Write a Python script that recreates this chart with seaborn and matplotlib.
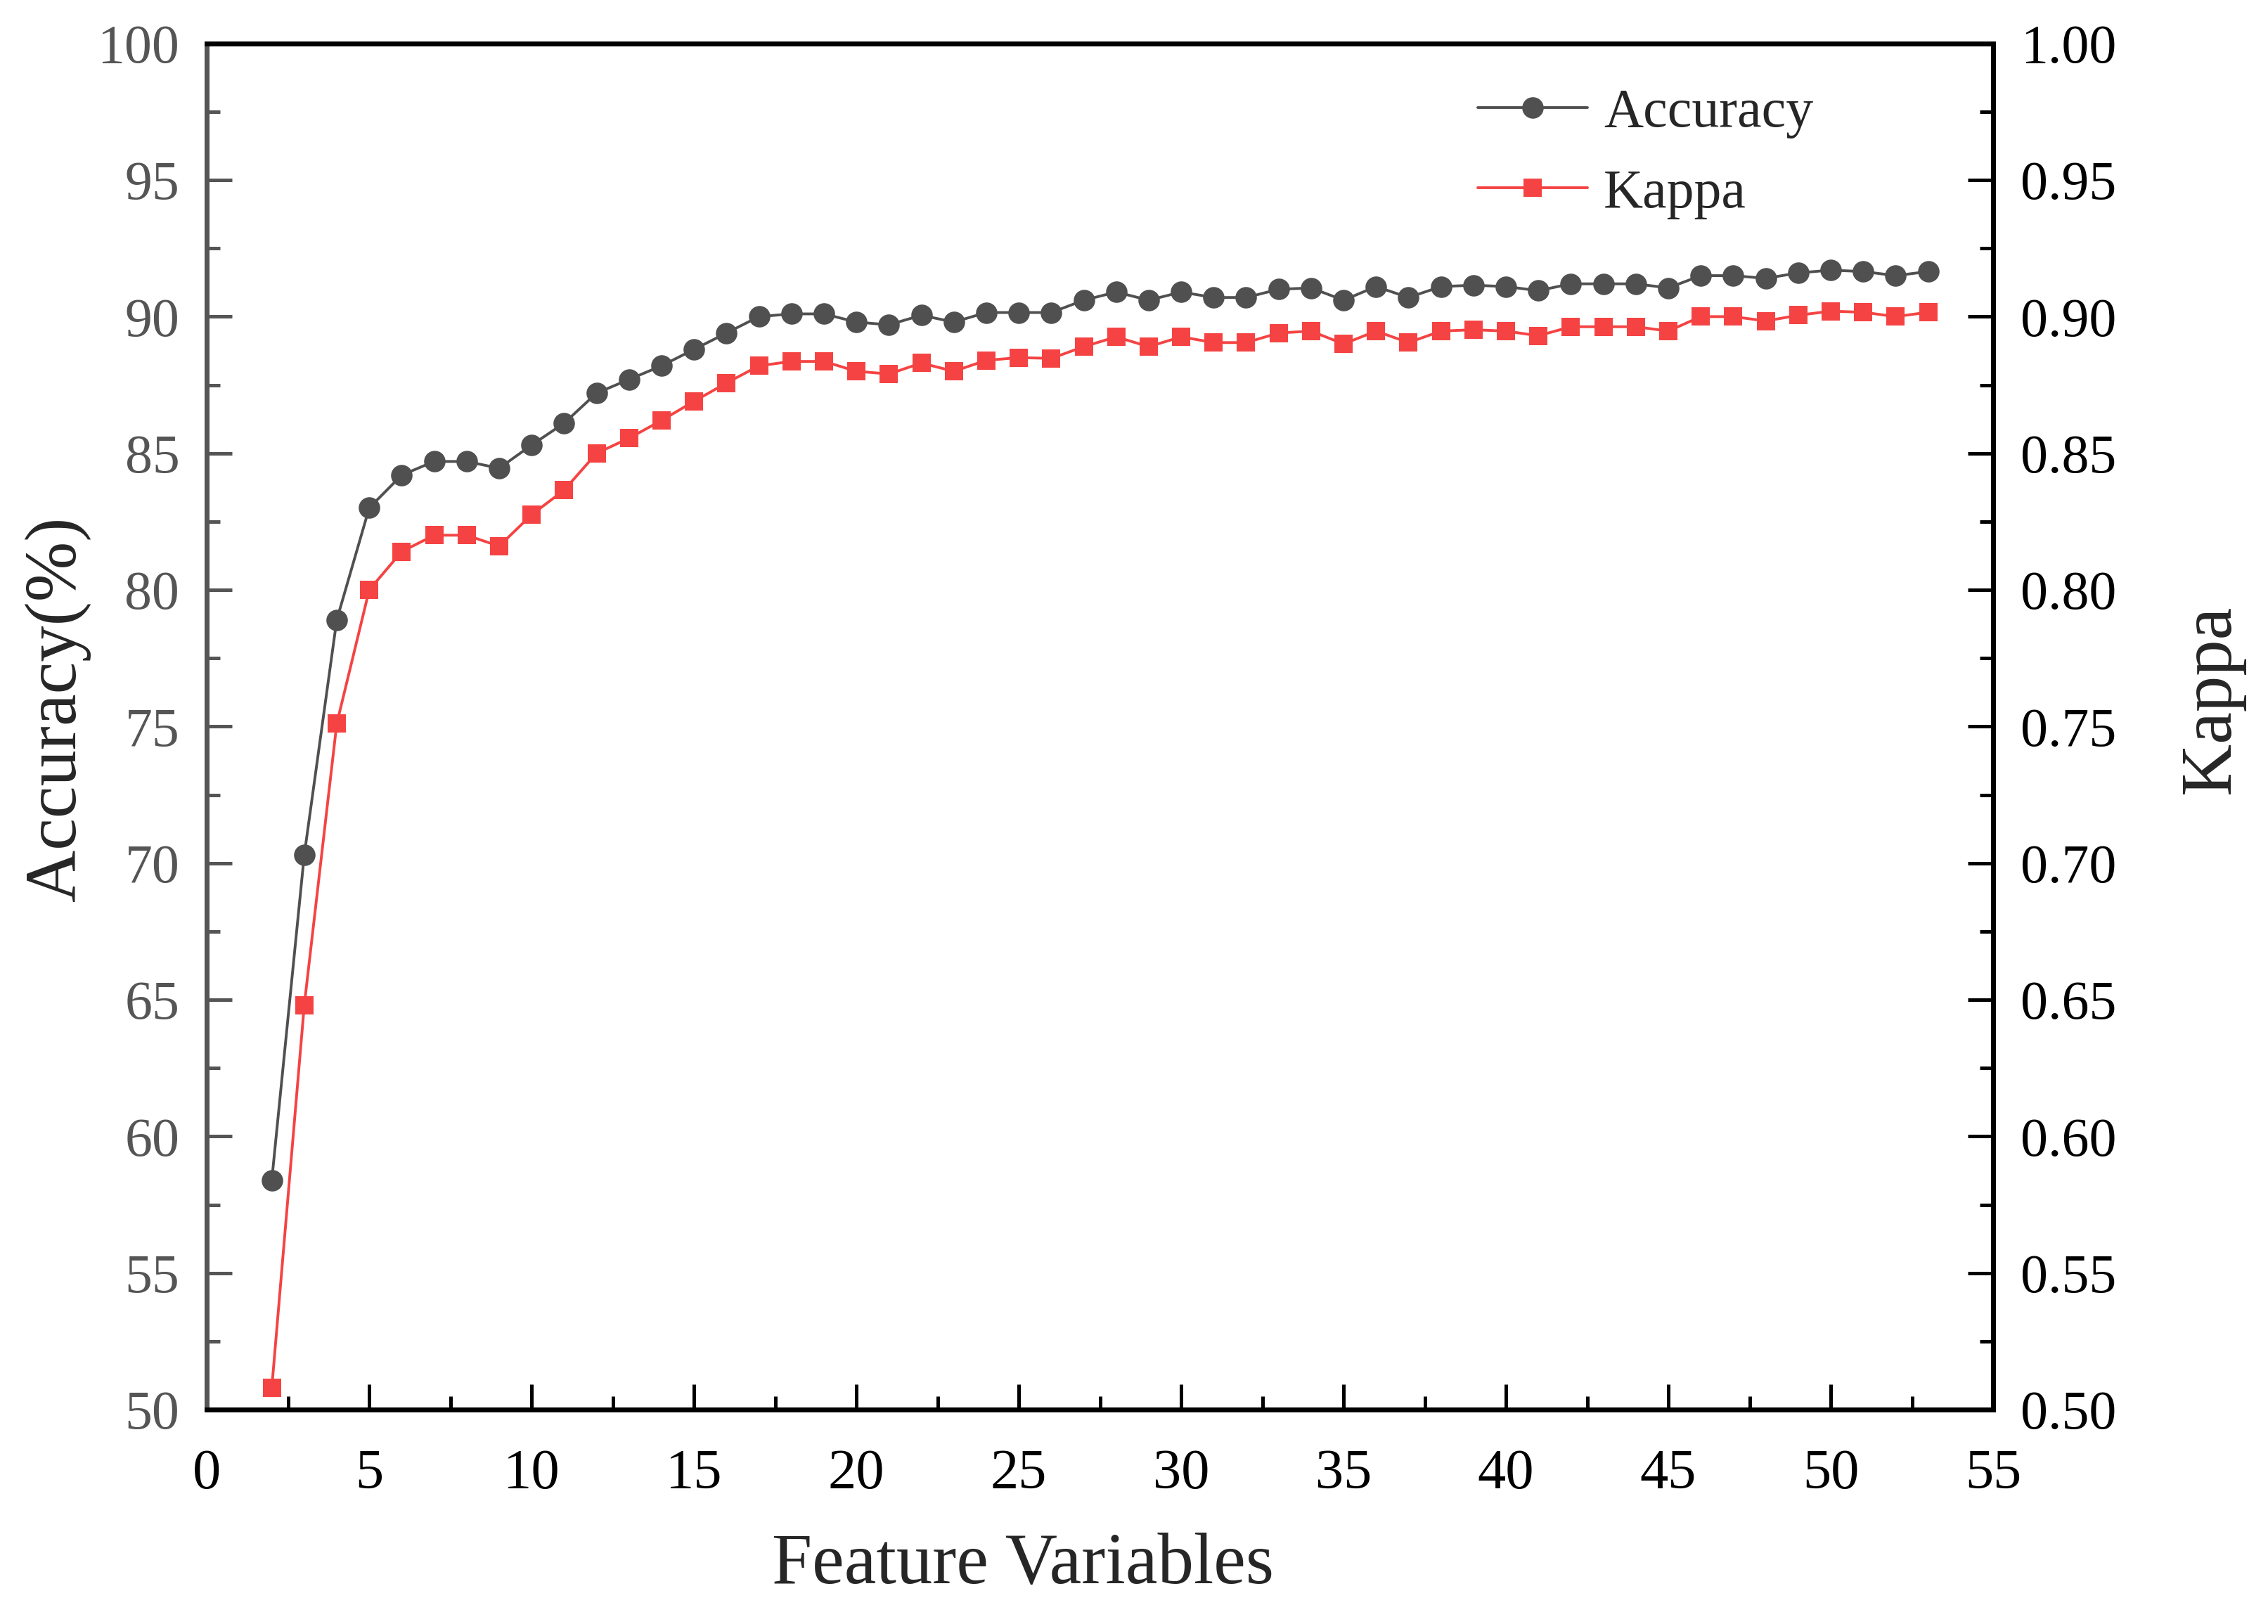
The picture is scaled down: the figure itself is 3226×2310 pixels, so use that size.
import numpy as np
import pandas as pd
import matplotlib
matplotlib.use("Agg")
import matplotlib.pyplot as plt
import seaborn as sns
from matplotlib.ticker import MultipleLocator

features = list(range(2, 54))
accuracy = [58.4, 70.3, 78.9, 83.0, 84.2, 84.7, 84.7, 84.45, 85.3, 86.1,
            87.2, 87.7, 88.2, 88.8, 89.4, 90.0, 90.1, 90.1, 89.8, 89.7,
            90.05, 89.8, 90.15, 90.15, 90.15, 90.6, 90.9, 90.6, 90.9, 90.7,
            90.7, 91.0, 91.05, 90.6, 91.1, 90.7, 91.1, 91.15, 91.1, 90.95,
            91.2, 91.2, 91.2, 91.05, 91.5, 91.5, 91.4, 91.6, 91.7, 91.65,
            91.5, 91.65]
kappa = [0.508, 0.648, 0.751, 0.800, 0.814, 0.820, 0.820, 0.816, 0.8275, 0.8365,
         0.850, 0.8555, 0.862, 0.869, 0.8757, 0.882, 0.8836, 0.8836, 0.880, 0.879,
         0.883, 0.880, 0.884, 0.885, 0.8847, 0.889, 0.8926, 0.889, 0.8926, 0.8905,
         0.8905, 0.894, 0.8947, 0.890, 0.8947, 0.8905, 0.8947, 0.8952, 0.8947, 0.893,
         0.8963, 0.8963, 0.8963, 0.8947, 0.900, 0.900, 0.8984, 0.9005, 0.902, 0.9016,
         0.900, 0.9016]

df = pd.DataFrame({"Feature": features, "Accuracy": accuracy, "Kappa": kappa})

sns.set_style("ticks")
plt.rcParams["font.family"] = ["Liberation Serif", "DejaVu Serif"]

acc_color = "#505050"
kap_color = "#F54343"
grey = "#555555"

fig = plt.figure(figsize=(16.13, 11.55), dpi=200)
ax = fig.add_axes([0.0912, 0.132, 0.7876, 0.8413])
ax2 = ax.twinx()

sns.lineplot(data=df, x="Feature", y="Accuracy", ax=ax, color=acc_color,
             marker="o", markersize=11, markeredgewidth=0, linewidth=1.4,
             label="Accuracy", legend=False)
sns.lineplot(data=df, x="Feature", y="Kappa", ax=ax2, color=kap_color,
             marker="s", markersize=9.5, markeredgewidth=0, linewidth=1.4,
             label="Kappa", legend=False)

ax.set_xlim(0, 55)
ax.set_ylim(50, 100)
ax2.set_ylim(0.5, 1.0)

ax.xaxis.set_major_locator(MultipleLocator(5))
ax.xaxis.set_minor_locator(MultipleLocator(2.5))
ax.yaxis.set_major_locator(MultipleLocator(5))
ax.yaxis.set_minor_locator(MultipleLocator(2.5))
ax2.yaxis.set_major_locator(MultipleLocator(0.05))
ax2.yaxis.set_minor_locator(MultipleLocator(0.025))
ax2.yaxis.set_major_formatter(matplotlib.ticker.FormatStrFormatter("%.2f"))

for a in (ax, ax2):
    for s in a.spines.values():
        s.set_linewidth(2.5)
        s.set_color("black")
        s.set_visible(True)
ax.spines["left"].set_color(grey)
ax2.spines["left"].set_color(grey)

ax.tick_params(axis="x", which="major", direction="in", length=13, width=1.8,
               color="black", labelsize=29, labelcolor="black", pad=20, top=False)
ax.tick_params(axis="x", which="minor", direction="in", length=7, width=1.8,
               color="black", top=False)
ax.tick_params(axis="y", which="major", direction="in", length=13, width=1.8,
               color=grey, labelsize=28, labelcolor=grey, pad=14, right=False)
ax.tick_params(axis="y", which="minor", direction="in", length=7, width=1.8,
               color=grey, right=False)
ax2.tick_params(axis="y", which="major", direction="in", length=13, width=1.8,
                color="black", labelsize=28, labelcolor="black", pad=14)
ax2.tick_params(axis="y", which="minor", direction="in", length=7, width=1.8,
                color="black")

ax.set_xlabel("Feature Variables", fontsize=37, labelpad=24)
ax.xaxis.set_label_coords(0.457, -0.09)
ax.set_ylabel("Accuracy(%)", fontsize=37, labelpad=10)
ax.yaxis.set_label_coords(-0.065, 0.513)
ax2.set_ylabel("Kappa", fontsize=37)
ax2.yaxis.set_label_coords(1.104, 0.52)

h1, l1 = ax.get_legend_handles_labels()
h2, l2 = ax2.get_legend_handles_labels()
ax2.legend(h1 + h2, l1 + l2, loc="upper left", bbox_to_anchor=(0.684, 1.003),
           frameon=False, fontsize=28, handlelength=2.0, handletextpad=0.3,
           labelspacing=0.55)

fig.savefig("out.png", dpi=200)
